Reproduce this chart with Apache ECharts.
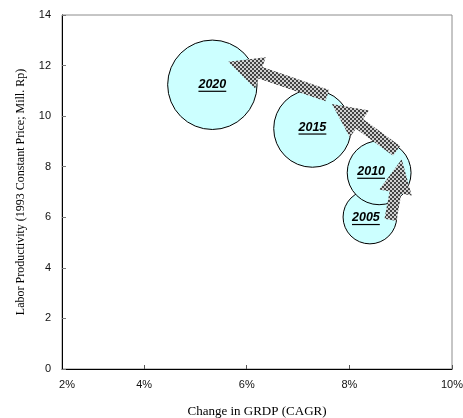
<!DOCTYPE html>
<html>
<head>
<meta charset="utf-8">
<script src="https://cdn.jsdelivr.net/npm/echarts@6/dist/echarts.min.js"></script>
<style>
  html, body { margin: 0; padding: 0; background: #fff; }
  #chart { width: 463px; height: 418px; }
</style>
</head>
<body>
<div id="chart"></div>
<script>
// Labor productivity vs. GRDP growth, by target year
const years = ['2005', '2010', '2015', '2020'];
const grdpGrowth = [8.40, 8.58, 7.28, 5.33];        // % CAGR
const productivity = [6.01, 7.76, 9.51, 11.24];     // 1993 constant price, Mill. Rp
const bubbleSize = [36, 51, 75, 100];               // relative bubble value

// Trend arrows between consecutive years: [fromX, fromY, toX, toY]
const arrowFrom = [[8.80, 5.90], [8.92, 8.63], [7.57, 10.81]];
const arrowTo = [[9.02, 8.30], [7.66, 10.48], [5.64, 12.15]];

const xTicks = [4, 6, 8, 10];
const xTickLabels = ['2%', '4%', '6%', '8%', '10%'];
const xMin = 2.4, xMax = 10;

// checkered fill for the arrows
const pat = document.createElement('canvas');
pat.width = 4; pat.height = 4;
const pctx = pat.getContext('2d');
pctx.fillStyle = '#d0d0d0'; pctx.fillRect(0, 0, 4, 4);
pctx.fillStyle = '#444444'; pctx.fillRect(0, 0, 2, 2); pctx.fillRect(2, 2, 2, 2);

const labelFont = 'italic bold 12.5px "Liberation Sans", Arial, sans-serif';
const mctx = document.createElement('canvas').getContext('2d');
mctx.font = labelFont;

const maxR = 44.7;
const labelShift = [[-4, 1], [-8, -1], [0, -1], [0, 0]];

const bubbleData = years.map((y, i) => [grdpGrowth[i], productivity[i], bubbleSize[i], y]);
const arrowData = arrowFrom.map((f, i) => [f[0], f[1], arrowTo[i][0], arrowTo[i][1]]);

const chart = echarts.init(document.getElementById('chart'));
chart.setOption({
  animation: false,
  grid: {
    left: 62, right: 11, top: 15, bottom: 49,
    outerBoundsMode: 'none', containLabel: false,
    show: true, borderColor: '#8c8c8c', borderWidth: 1
  },
  xAxis: {
    type: 'value', min: xMin, max: xMax,
    name: 'Change in GRDP (CAGR)', nameLocation: 'middle', nameGap: 36,
    nameTextStyle: { fontFamily: '"Liberation Serif", "Times New Roman", serif', fontSize: 13, color: '#000' },
    splitLine: { show: false },
    axisLine: { lineStyle: { color: '#000', width: 1 } },
    axisTick: { inside: true, length: 4, customValues: xTicks, lineStyle: { color: '#555' } },
    axisLabel: {
      customValues: [xMin].concat(xTicks), margin: 10,
      fontFamily: '"Liberation Sans", Arial, sans-serif', fontSize: 11, color: '#111',
      formatter: function (v) {
        const idx = v === xMin ? 0 : xTicks.indexOf(v) + 1;
        return idx === 0 ? '{first|' + xTickLabels[0] + '}' : xTickLabels[idx];
      },
      rich: { first: { padding: [0, 0, 0, 10], fontFamily: '"Liberation Sans", Arial, sans-serif', fontSize: 11, color: '#111' } }
    }
  },
  yAxis: {
    type: 'value', min: 0, max: 14, interval: 2,
    name: 'Labor Productivity (1993 Constant Price; Mill. Rp)', nameLocation: 'middle', nameGap: 35,
    nameTextStyle: { fontFamily: '"Liberation Serif", "Times New Roman", serif', fontSize: 12, color: '#000' },
    splitLine: { show: false },
    axisLine: { show: true, lineStyle: { color: '#000', width: 1 } },
    axisTick: { show: true, inside: true, length: 4, lineStyle: { color: '#777' } },
    axisLabel: { margin: 11, fontFamily: '"Liberation Sans", Arial, sans-serif', fontSize: 11, color: '#111' }
  },
  series: [
    {
      type: 'custom',
      coordinateSystem: 'cartesian2d',
      data: bubbleData,
      encode: { x: 0, y: 1 },
      z: 2,
      renderItem: function (params, api) {
        const i = params.dataIndex;
        const c = api.coord([api.value(0), api.value(1)]);
        const r = maxR * Math.sqrt(api.value(2) / 100);
        const txt = bubbleData[i][3];
        const w = mctx.measureText(txt).width;
        const lx = c[0] + labelShift[i][0], ly = c[1] + labelShift[i][1];
        return {
          type: 'group',
          children: [
            { type: 'circle', shape: { cx: c[0], cy: c[1], r: r }, style: { fill: '#ccffff', stroke: '#000', lineWidth: 1 } },
            { type: 'text', style: { text: txt, x: lx, y: ly, align: 'center', verticalAlign: 'middle', font: labelFont, fill: '#000' } },
            { type: 'line', shape: { x1: lx - w / 2, y1: ly + 6.5, x2: lx + w / 2, y2: ly + 6.5 }, style: { stroke: '#000', lineWidth: 1.2 } }
          ]
        };
      }
    },
    {
      type: 'custom',
      coordinateSystem: 'cartesian2d',
      data: arrowData,
      encode: { x: [0, 2], y: [1, 3] },
      z: 3,
      renderItem: function (params, api) {
        const p0 = api.coord([api.value(0), api.value(1)]);
        const p1 = api.coord([api.value(2), api.value(3)]);
        const dx = p1[0] - p0[0], dy = p1[1] - p0[1];
        const len = Math.sqrt(dx * dx + dy * dy);
        const ux = dx / len, uy = dy / len, nx = -uy, ny = ux;
        const headLen = 34, headW = 16.5, shaftW = 6;
        const bx = p1[0] - ux * headLen, by = p1[1] - uy * headLen;
        const pts = [
          [p0[0] + nx * shaftW, p0[1] + ny * shaftW],
          [bx + nx * shaftW, by + ny * shaftW],
          [bx + nx * headW, by + ny * headW],
          [p1[0], p1[1]],
          [bx - nx * headW, by - ny * headW],
          [bx - nx * shaftW, by - ny * shaftW],
          [p0[0] - nx * shaftW, p0[1] - ny * shaftW]
        ];
        return {
          type: 'polygon',
          shape: { points: pts },
          style: { fill: { image: pat, repeat: 'repeat' }, stroke: null }
        };
      }
    }
  ]
});
</script>
</body>
</html>
